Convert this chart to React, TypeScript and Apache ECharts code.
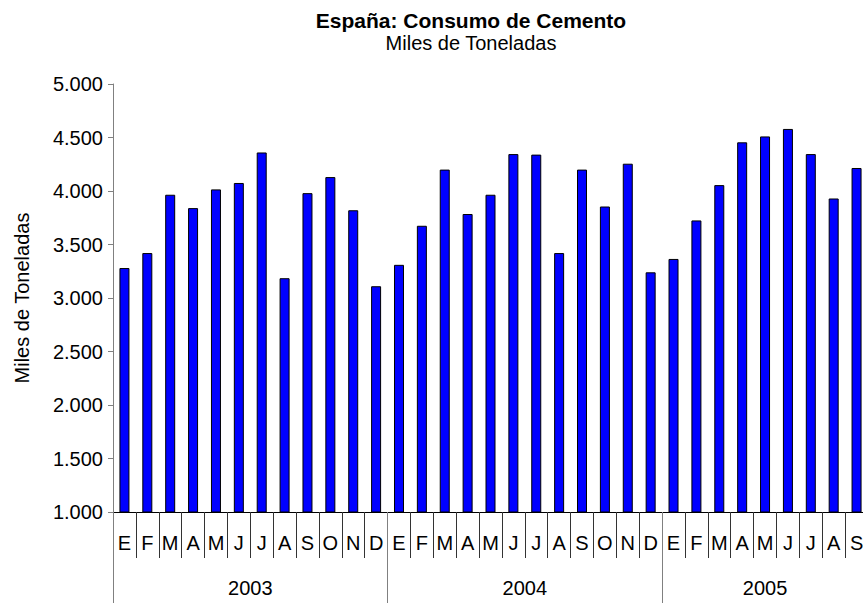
import React, { useEffect, useRef } from "react";
import * as echarts from "echarts";

const monthLetters = ["E", "F", "M", "A", "M", "J", "J", "A", "S", "O", "N", "D"];
const years = ["2003", "2004", "2005"];
const monthsPerYear = [12, 12, 9];
const values2003 = [3280, 3420, 3965, 3840, 4015, 4075, 4360, 3185, 3980, 4130, 3820, 3110];
const values2004 = [3310, 3675, 4200, 3785, 3965, 4345, 4340, 3420, 4200, 3855, 4255, 3240];
const values2005 = [3365, 3725, 4055, 4455, 4510, 4580, 4345, 3930, 4215];
const yTicks = { min: 1000, max: 5000, interval: 500 };
const titleText = "España: Consumo de Cemento";
const subtitleText = "Miles de Toneladas";
const yAxisName = "Miles de Toneladas";

const FONT = "'Liberation Sans', Arial, sans-serif";

export default function App() {
  const ref = useRef<HTMLDivElement>(null);
  useEffect(() => {
    if (!ref.current) return;
    const chart = echarts.init(ref.current, null, { renderer: "svg" });
    const values = [...values2003, ...values2004, ...values2005];
    const categories: string[] = [];
    monthsPerYear.forEach((n) => {
      for (let i = 0; i < n; i++) categories.push(monthLetters[i]);
    });
    const total = categories.length;
    const bounds: number[] = [0];
    monthsPerYear.forEach((n) => bounds.push(bounds[bounds.length - 1] + n));
    const centers = monthsPerYear.map((n, i) => bounds[i] + n / 2);
    const fmt = (v: number) =>
      String(Math.round(v)).replace(/\B(?=(\d{3})+(?!\d))/g, ".");

    chart.setOption({
      animation: false,
      backgroundColor: "#ffffff",
      textStyle: { fontFamily: FONT },
      title: {
        text: titleText,
        subtext: subtitleText,
        left: 466,
        textAlign: "center",
        top: 5,
        itemGap: 2,
        textStyle: { fontFamily: FONT, fontSize: 21, fontWeight: "bold", color: "#000" },
        subtextStyle: { fontFamily: FONT, fontSize: 20, color: "#000" },
      },
      grid: { left: 113, top: 84, bottom: 91, width: 755, containLabel: false },
      xAxis: [
        {
          type: "category",
          data: categories,
          position: "bottom",
          boundaryGap: true,
          axisLine: { show: true, lineStyle: { color: "#000", width: 1 } },
          axisTick: { show: true, interval: 0, length: 46, lineStyle: { color: "#333" } },
          axisLabel: { interval: 0, margin: 21, fontSize: 20, color: "#000", fontFamily: FONT },
          splitLine: { show: false },
        },
        {
          type: "value",
          min: 0,
          max: total,
          position: "bottom",
          axisLine: { show: false },
          axisTick: {
            show: true,
            customValues: bounds,
            length: 91,
            lineStyle: { color: "#808080" },
          },
          axisLabel: {
            show: true,
            customValues: centers,
            margin: 66,
            fontSize: 20,
            color: "#000",
            fontFamily: FONT,
            formatter: (v: number) => {
              const i = centers.findIndex((c) => Math.abs(c - v) < 1e-6);
              return i >= 0 ? years[i] : "";
            },
          },
          splitLine: { show: false },
        },
      ],
      yAxis: {
        type: "value",
        min: yTicks.min,
        max: yTicks.max,
        interval: yTicks.interval,
        name: yAxisName,
        nameLocation: "middle",
        nameGap: 81,
        nameTextStyle: { fontSize: 20, color: "#000", fontFamily: FONT },
        axisLine: { show: true, lineStyle: { color: "#808080", width: 1 } },
        axisTick: { show: true, length: 5, lineStyle: { color: "#808080" } },
        axisLabel: { fontSize: 20, color: "#000", margin: 10, fontFamily: FONT, formatter: fmt },
        splitLine: { show: false },
      },
      series: [
        {
          type: "bar",
          xAxisIndex: 0,
          data: values,
          barWidth: 10,
          itemStyle: { color: "#0000ff", borderColor: "#000", borderWidth: 1 },
        },
      ],
    });
    return () => chart.dispose();
  }, []);
  return (
    <div style={{ position: "fixed", left: 0, top: 0, width: 863, height: 603, overflow: "hidden", background: "#fff" }}>
      <div ref={ref} style={{ position: "absolute", left: 0, top: 0, width: 875, height: 603 }} />
    </div>
  );
}
